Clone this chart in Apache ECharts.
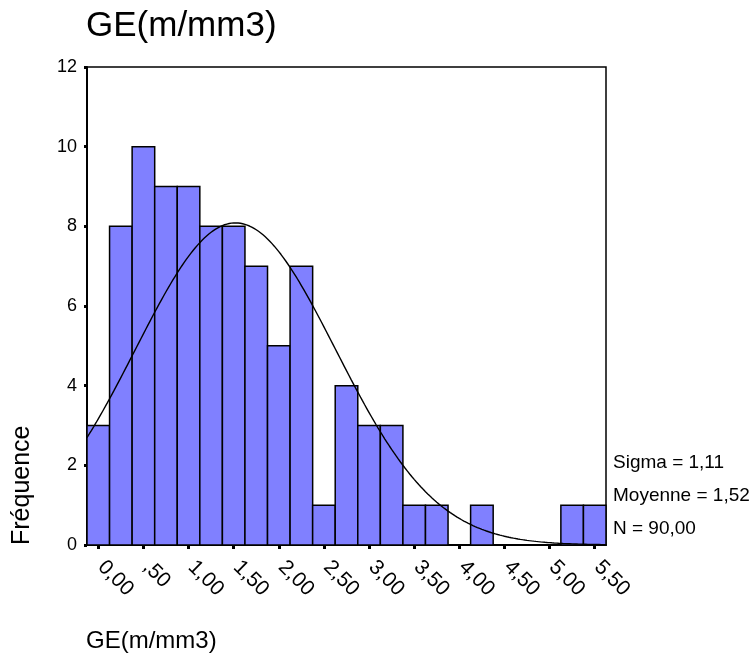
<!DOCTYPE html>
<html>
<head>
<meta charset="utf-8">
<script src="https://cdn.jsdelivr.net/npm/echarts@6/dist/echarts.min.js"></script>
<style>
  html, body { margin: 0; padding: 0; background: #fff; }
  #chart { width: 754px; height: 657px; }
</style>
</head>
<body>
<div id="chart"></div>
<script>
// Histogram bins (centre of each 0,25-wide class) and their counts
const binCenters = [0, 0.25, 0.5, 0.75, 1, 1.25, 1.5, 1.75, 2, 2.25, 2.5, 2.75,
                    3, 3.25, 3.5, 3.75, 4, 4.25, 4.5, 4.75, 5, 5.25, 5.5];
const frequencies = [3, 8, 10, 9, 9, 8, 8, 7, 5, 7, 1, 4,
                     3, 3, 1, 1, 0, 1, 0, 0, 0, 1, 1];
const binWidth = 0.25;

// Axis ticks and their (French-formatted) labels
const xTickValues = [0, 0.5, 1, 1.5, 2, 2.5, 3, 3.5, 4, 4.5, 5, 5.5];
const xTickLabels = ['0,00', ',50', '1,00', '1,50', '2,00', '2,50',
                     '3,00', '3,50', '4,00', '4,50', '5,00', '5,50'];
const yTickValues = [0, 2, 4, 6, 8, 10, 12];

// Descriptive statistics shown beside the plot
const sigma = 1.11;
const mean = 1.52;
const count = 90;
const statLines = ['Sigma = 1,11', 'Moyenne = 1,52', 'N = 90,00'];

const FONT = '"Liberation Sans", Arial, sans-serif';
const xMin = binCenters[0] - binWidth / 2;
const xMax = binCenters[binCenters.length - 1] + binWidth / 2;

// Fitted normal curve, scaled to the histogram's counts per bin
const normalCurve = [];
for (let i = 0; i <= 230; i++) {
  const x = xMin + (xMax - xMin) * i / 230;
  const z = (x - mean) / sigma;
  const y = count * binWidth / (sigma * Math.sqrt(2 * Math.PI)) * Math.exp(-0.5 * z * z);
  normalCurve.push([x, y]);
}

const chart = echarts.init(document.getElementById('chart'), null, { renderer: 'canvas' });

chart.setOption({
  animation: false,
  backgroundColor: '#fff',
  grid: {
    left: 87, top: 67, width: 519, height: 478,
    show: true, borderColor: '#000', borderWidth: 1.5, backgroundColor: 'transparent'
  },
  xAxis: {
    type: 'value',
    min: xMin,
    max: xMax,
    splitLine: { show: false },
    axisLine: { onZero: false, lineStyle: { color: '#000', width: 2 } },
    axisTick: {
      customValues: xTickValues,
      length: 4,
      lineStyle: { color: '#000', width: 3 }
    },
    axisLabel: {
      customValues: xTickValues,
      rotate: -45,
      margin: 16,
      padding: [0, 0, 0, 4],
      color: '#000',
      fontFamily: FONT,
      fontSize: 21,
      formatter: v => xTickLabels[xTickValues.findIndex(t => Math.abs(t - v) < 1e-9)]
    }
  },
  yAxis: {
    type: 'value',
    min: 0,
    max: 12,
    interval: 2,
    splitLine: { show: false },
    axisLine: { onZero: false, lineStyle: { color: '#000', width: 2 } },
    axisTick: {
      customValues: yTickValues,
      length: 3,
      lineStyle: { color: '#000', width: 3 }
    },
    axisLabel: {
      customValues: yTickValues,
      margin: 10,
      color: '#000',
      fontFamily: FONT,
      fontSize: 18
    }
  },
  series: [
    {
      type: 'custom',
      data: binCenters.map((c, i) => [c, frequencies[i]]),
      renderItem: (params, api) => {
        const c = api.value(0);
        const f = api.value(1);
        if (!f) return null;
        const topLeft = api.coord([c - binWidth / 2, f]);
        const bottomRight = api.coord([c + binWidth / 2, 0]);
        return {
          type: 'rect',
          shape: {
            x: topLeft[0], y: topLeft[1],
            width: bottomRight[0] - topLeft[0],
            height: bottomRight[1] - topLeft[1]
          },
          style: { fill: '#8080ff', stroke: '#000', lineWidth: 1.5 }
        };
      },
      z: 2
    },
    {
      type: 'line',
      data: normalCurve,
      showSymbol: false,
      silent: true,
      lineStyle: { color: '#000', width: 1.4 },
      z: 3
    }
  ],
  graphic: [
    {
      type: 'text', left: 86, top: 9,
      style: { text: 'GE(m/mm3)', fontFamily: FONT, fontSize: 35, fill: '#000' }
    },
    {
      type: 'text', x: 22, y: 545, rotation: Math.PI / 2,
      style: { text: 'Fréquence', fontFamily: FONT, fontSize: 25, fill: '#000',
               align: 'left', verticalAlign: 'middle' }
    },
    {
      type: 'text', x: 86, y: 641,
      style: { text: 'GE(m/mm3)', fontFamily: FONT, fontSize: 24, fill: '#000',
               align: 'left', verticalAlign: 'middle' }
    },
    ...statLines.map((t, i) => ({
      type: 'text', x: 613, y: [463, 496, 529][i],
      style: { text: t, fontFamily: FONT, fontSize: 19, fill: '#000',
               align: 'left', verticalAlign: 'middle' }
    }))
  ]
});
</script>
</body>
</html>
